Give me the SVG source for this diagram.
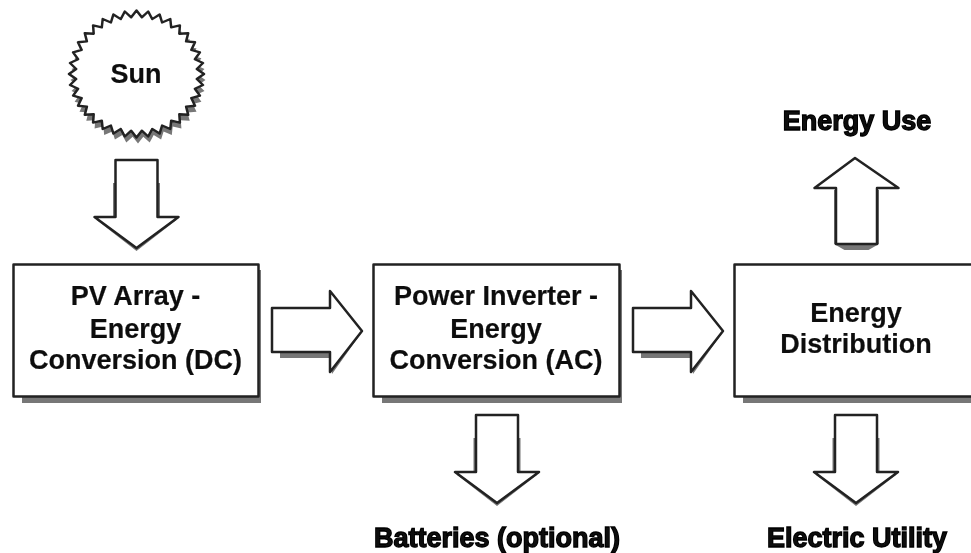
<svg xmlns="http://www.w3.org/2000/svg" width="971" height="553" viewBox="0 0 971 553">
<style>
.s{fill:#777;stroke:none}
.f{fill:#fff;stroke:#222;stroke-width:2.5;stroke-linejoin:round}
text{font-family:"Liberation Sans",Arial,sans-serif;font-weight:700;fill:#111;text-anchor:middle}
.b{font-size:27px;stroke:#111;stroke-width:.2px}
.o{font-size:27px;stroke:#000;stroke-width:1.3px}
</style>
<defs>
<filter id="soft" x="0" y="0" width="100%" height="100%" filterUnits="userSpaceOnUse"><feGaussianBlur stdDeviation="0.55"/></filter>
<polygon id="sunp" points="67.5,0 60.3,5.3 66.5,11.7 58.4,15.7 63.4,23.1 54.8,25.6 58.5,33.8 49.6,34.7 51.7,43.4 42.8,42.8 43.4,51.7 34.7,49.6 33.8,58.5 25.6,54.8 23.1,63.4 15.7,58.4 11.7,66.5 5.3,60.3 0,67.5 -5.3,60.3 -11.7,66.5 -15.7,58.4 -23.1,63.4 -25.6,54.8 -33.8,58.5 -34.7,49.6 -43.4,51.7 -42.8,42.8 -51.7,43.4 -49.6,34.7 -58.5,33.8 -54.8,25.6 -63.4,23.1 -58.4,15.7 -66.5,11.7 -60.3,5.3 -67.5,0 -60.3,-5.3 -66.5,-11.7 -58.4,-15.7 -63.4,-23.1 -54.8,-25.6 -58.5,-33.8 -49.6,-34.7 -51.7,-43.4 -42.8,-42.8 -43.4,-51.7 -34.7,-49.6 -33.8,-58.5 -25.6,-54.8 -23.1,-63.4 -15.7,-58.4 -11.7,-66.5 -5.3,-60.3 0,-67.5 5.3,-60.3 11.7,-66.5 15.7,-58.4 23.1,-63.4 25.6,-54.8 33.8,-58.5 34.7,-49.6 43.4,-51.7 42.8,-42.8 51.7,-43.4 49.6,-34.7 58.5,-33.8 54.8,-25.6 63.4,-23.1 58.4,-15.7 66.5,-11.7 60.3,-5.3"/>
<polygon id="down" points="-21,0 21,0 21,57 42,57 0,88 -42,57 -21,57"/>
<polygon id="downs" points="-23.500,23 23.500,23 23.500,58 40,60 0,91 -40,60 -23.500,58"/>
<polygon id="right" points="0,-22 58,-22 58,-39 90,1 58,42 58,22 0,22"/>
<polygon id="rights" points="8,0 60,0 90,2 60,44 58,28 8,28"/>
<polygon id="up" points="-20.500,86 20.500,86 20.500,30 42,30 -1.500,0 -42,30 -20.500,30"/>
<polygon id="ups" points="-22.500,32 22.500,32 22.500,86 12,92 -12,92 -22.500,86"/>
</defs>
<g filter="url(#soft)">
<g id="connectors">
<g id="arrow-sun-pv"><use href="#downs" class="s" x="136.500" y="160"/><use href="#down" class="f" x="136.500" y="160"/></g>
<g id="arrow-pv-inv"><use href="#rights" class="s" x="272" y="330"/><use href="#right" class="f" x="272" y="330"/></g>
<g id="arrow-inv-dist"><use href="#rights" class="s" x="633" y="330"/><use href="#right" class="f" x="633" y="330"/></g>
<g id="arrow-use"><use href="#ups" class="s" x="856.500" y="158"/><use href="#up" class="f" x="856.500" y="158"/></g>
<g id="arrow-batt"><use href="#downs" class="s" x="497" y="415"/><use href="#down" class="f" x="497" y="415"/></g>
<g id="arrow-util"><use href="#downs" class="s" x="856" y="415"/><use href="#down" class="f" x="856" y="415"/></g>
</g>
<g id="sun">
<use href="#sunp" class="s" transform="translate(138,80) scale(1,.94)"/>
<use href="#sunp" class="f" transform="translate(136.500,74) scale(1,.94)"/>
<text class="b" x="136" y="83">Sun</text>
</g>
<g id="pv">
<rect class="s" x="22" y="270" width="239" height="133"/>
<rect class="f" x="13.500" y="264.500" width="245" height="132"/>
<text class="b" x="135.500" y="305">PV Array -</text>
<text class="b" x="135.500" y="338">Energy</text>
<text class="b" x="135.500" y="369">Conversion (DC)</text>
</g>
<g id="inverter">
<rect class="s" x="382" y="270" width="240" height="133"/>
<rect class="f" x="373.500" y="264.500" width="246" height="132"/>
<text class="b" x="496" y="305">Power Inverter -</text>
<text class="b" x="496" y="338">Energy</text>
<text class="b" x="496" y="369">Conversion (AC)</text>
</g>
<g id="distribution">
<rect class="s" x="743" y="270" width="240" height="133"/>
<rect class="f" x="734.500" y="264.500" width="246" height="132"/>
<text class="b" x="856" y="322">Energy</text>
<text class="b" x="856" y="353">Distribution</text>
</g>
<g id="energy-use"><text class="o" x="857" y="130">Energy Use</text></g>
<g id="batteries"><text class="o" x="497" y="547">Batteries (optional)</text></g>
<g id="utility"><text class="o" x="857" y="547">Electric Utility</text></g>
</g>
</svg>
